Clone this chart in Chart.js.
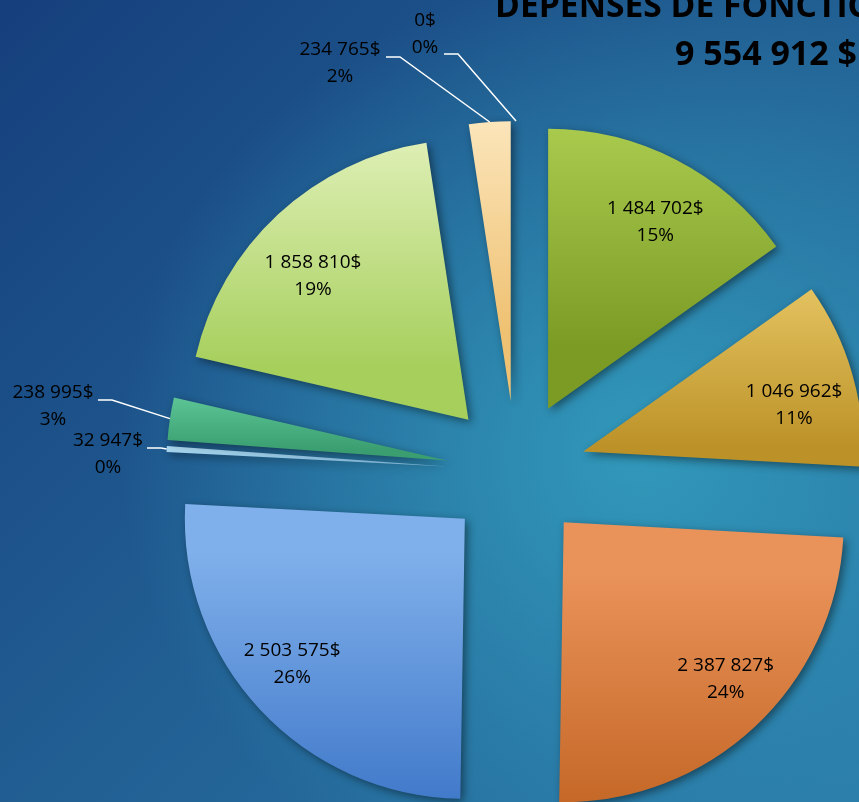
<!DOCTYPE html>
<html>
<head>
<meta charset="utf-8">
<script src="https://cdn.jsdelivr.net/npm/chart.js@4.4.0/dist/chart.umd.min.js"></script>
<style>
  html, body { margin: 0; padding: 0; }
  body {
    width: 859px; height: 802px; overflow: hidden;
    background:
      radial-gradient(ellipse 520px 480px at 640px 450px, rgba(50,155,188,0.95) 0%, rgba(50,155,188,0) 100%),
      linear-gradient(135deg, #153f7c 0%, #215e92 50%, #2a7aa8 100%);
  }
  canvas { display: block; }
</style>
</head>
<body>
<canvas id="chart" width="859" height="802"></canvas>
<script>
// slices, clockwise from 12 o'clock
const categories = ['Poste 1', 'Poste 2', 'Poste 3', 'Poste 4', 'Poste 5', 'Poste 6', 'Poste 7', 'Poste 8', 'Poste 9'];
const values = [1484702, 1046962, 2387827, 2503575, 32947, 238995, 1858810, 234765, 0];
const percentLabels = ['15%', '11%', '24%', '26%', '0%', '3%', '19%', '2%', '0%'];
const titleLines = ['DÉPENSES DE FONCTIONNEMENT', '9 554 912 $'];

const topColors = ['#b6d758', '#e8c866', '#e99259', '#80b0eb', '#b8e2f6', '#62cc9c', '#eaf6c8', '#fff1d2', '#ffffff'];
const bottomColors = ['#7b9b25', '#bc9228', '#bd5f1d', '#3670c4', '#8cc2e2', '#3a9e70', '#a6cf5c', '#efc172', '#ffffff'];

// small hand nudges of the inside labels, like the ones placed in the original
const labelNudge = [[7, 7], [1, 14], [13, -3], [-13, -4], [0, 0], [0, 0], [-7, 17], [0, 0], [0, 0]];

// labels of the thin slices sit outside with a leader line
const callouts = {
    4: { x: 108, y: 441, lx: 147, ly: 448 },
    5: { x: 53, y: 393, lx: 98, ly: 400 },
    7: { x: 340, y: 50, lx: 386, ly: 57 },
    8: { x: 425, y: 21, lx: 444, ly: 54 }
};

const EXPLODE = 70;
const LABEL_FONT = '19px "Open Sans"';

function fmtMoney(v) {
    return String(v).replace(/\B(?=(\d{3})+(?!\d))/g, ' ') + '$';
}

const explodePlugin = {
    id: 'explode',
    beforeDatasetDraw(chart, args) {
        const ctx = chart.ctx;
        args.meta.data.forEach((arc, i) => {
            if (!arc.circumference) return;
            const mid = (arc.startAngle + arc.endAngle) / 2;
            const dx = Math.cos(mid) * EXPLODE;
            const dy = Math.sin(mid) * EXPLODE;
            const r = arc.outerRadius;
            const ys = [arc.y, arc.y + r * Math.sin(arc.startAngle), arc.y + r * Math.sin(arc.endAngle)];
            [-Math.PI / 2, Math.PI / 2, 3 * Math.PI / 2].forEach(a => {
                if (a >= arc.startAngle && a <= arc.endAngle) ys.push(arc.y + r * Math.sin(a));
            });
            const grad = ctx.createLinearGradient(0, Math.min(...ys) + dy, 0, Math.max(...ys) + dy);
            grad.addColorStop(0, topColors[i]);
            grad.addColorStop(1, bottomColors[i]);

            const saved = arc.options;
            arc.options = Object.assign({}, saved, { backgroundColor: grad });
            ctx.save();
            ctx.translate(dx, dy);
            ctx.shadowColor = 'rgba(0,0,0,0.45)';
            ctx.shadowBlur = 8;
            ctx.shadowOffsetX = 3;
            ctx.shadowOffsetY = 3;
            arc.draw(ctx);
            ctx.restore();
            arc.options = saved;
        });
        return false;
    },
    afterDatasetsDraw(chart) {
        const ctx = chart.ctx;
        const arcs = chart.getDatasetMeta(0).data;
        ctx.save();
        ctx.font = LABEL_FONT;
        ctx.textAlign = 'center';
        ctx.textBaseline = 'middle';
        arcs.forEach((arc, i) => {
            const mid = (arc.startAngle + arc.endAngle) / 2;
            const lines = [fmtMoney(values[i]), percentLabels[i]];
            const c = callouts[i];
            let x, y;
            if (c) {
                const reach = EXPLODE + arc.outerRadius;
                const ox = arc.x + Math.cos(mid) * reach;
                const oy = arc.y + Math.sin(mid) * reach;
                ctx.strokeStyle = '#ffffff';
                ctx.lineWidth = 1.5;
                ctx.beginPath();
                ctx.moveTo(c.lx, c.ly);
                ctx.lineTo(c.lx + 14, c.ly);
                ctx.lineTo(ox, oy);
                ctx.stroke();
                x = c.x;
                y = c.y + 13.5;
            } else {
                const d = EXPLODE + arc.outerRadius * 0.78;
                x = arc.x + Math.cos(mid) * d + labelNudge[i][0];
                y = arc.y + Math.sin(mid) * d + labelNudge[i][1];
            }
            ctx.fillStyle = '#000';
            ctx.fillText(lines[0], x, y - 13.5);
            ctx.fillText(lines[1], x, y + 13.5);
        });
        ctx.restore();
    },
    afterDraw(chart) {
        const ctx = chart.ctx;
        ctx.save();
        ctx.fillStyle = '#000';
        ctx.font = 'bold 34px "Open Sans"';
        ctx.textAlign = 'left';
        ctx.textBaseline = 'alphabetic';
        // the original uses a narrower face; squeeze the first line to its width
        const squeeze = 228 / ctx.measureText('DÉPENSES DE ').width;
        ctx.save();
        ctx.translate(495, 17);
        ctx.scale(squeeze, 1);
        ctx.fillText(titleLines[0], 0, 0);
        ctx.restore();
        ctx.fillText(titleLines[1], 675, 65);
        ctx.restore();
    }
};

new Chart(document.getElementById('chart'), {
    type: 'pie',
    data: {
        labels: categories,
        datasets: [{
            data: values,
            backgroundColor: topColors,
            borderWidth: 0,
            radius: 280
        }]
    },
    options: {
        responsive: false,
        devicePixelRatio: 1,
        animation: false,
        layout: { padding: { left: 173, top: 140, right: 0, bottom: 0 } },
        plugins: {
            legend: { display: false },
            tooltip: { enabled: false }
        }
    },
    plugins: [explodePlugin]
});
</script>
</body>
</html>
